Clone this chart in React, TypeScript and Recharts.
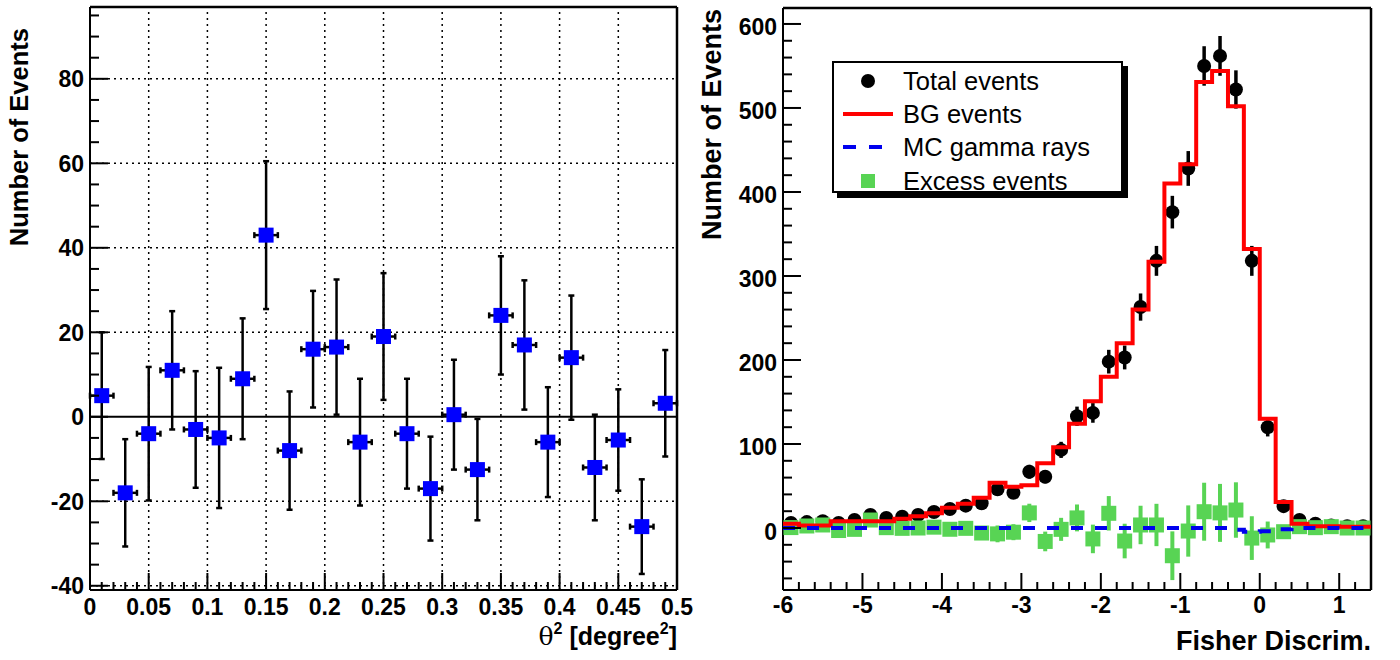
import React from 'react';
import { ComposedChart, Scatter, XAxis, YAxis, ErrorBar, ReferenceLine, Label } from 'recharts';

const FONT = '"Liberation Sans", Arial, Helvetica, sans-serif';

// ---------- Left panel: theta^2 distribution of excess events ----------
const thetaSqBins = [0.01, 0.03, 0.05, 0.07, 0.09, 0.11, 0.13, 0.15, 0.17, 0.19, 0.21, 0.23, 0.25, 0.27, 0.29, 0.31, 0.33, 0.35, 0.37, 0.39, 0.41, 0.43, 0.45, 0.47, 0.49];
const thetaSqExcess = [5, -18, -4, 11, -3, -5, 9, 43, -8, 16, 16.5, -6, 19, -4, -17, 0.5, -12.5, 24, 17, -6, 14, -12, -5.5, -26, 3.2];
const thetaSqErrors = [15, 12.7, 15.8, 14, 13.8, 16.6, 14.3, 17.5, 14, 13.8, 16, 15, 15, 13, 12.3, 13, 12, 14, 15.3, 13, 14.7, 12.5, 12, 11.2, 12.6];
const thetaSqHalfWidth = 0.01;
const thetaMajorTicks = [0, 0.05, 0.1, 0.15, 0.2, 0.25, 0.3, 0.35, 0.4, 0.45, 0.5];
const thetaTickLabels = ['0', '0.05', '0.1', '0.15', '0.2', '0.25', '0.3', '0.35', '0.4', '0.45', '0.5'];
const leftYMajorTicks = [-40, -20, 0, 20, 40, 60, 80];
const leftYTickLabels = ['-40', '-20', '0', '20', '40', '60', '80'];

// ---------- Right panel: Fisher discriminant distribution ----------
const fisherBinCenters = [-5.9, -5.7, -5.5, -5.3, -5.1, -4.9, -4.7, -4.5, -4.3, -4.1, -3.9, -3.7, -3.5, -3.3, -3.1, -2.9, -2.7, -2.5, -2.3, -2.1, -1.9, -1.7, -1.5, -1.3, -1.1, -0.9, -0.7, -0.5, -0.3, -0.1, 0.1, 0.3, 0.5, 0.7, 0.9, 1.1, 1.3];
const fisherBinWidth = 0.2;
const totalEvents = [6, 7, 8, 6, 9.5, 15.5, 12, 13.5, 15.5, 19, 22.6, 26.6, 29.4, 46, 42, 67, 61, 93, 133, 137, 198, 203, 263, 318, 376, 428, 550, 562, 522, 318, 120, 26, 9.5, 5, 3, 2, 2];
const totalErrors = [2.4, 2.6, 2.8, 2.4, 3.1, 3.9, 3.5, 3.7, 3.9, 4.4, 4.8, 5.2, 5.4, 6.8, 6.5, 8.2, 7.8, 9.6, 11.5, 11.7, 14.1, 14.2, 16.2, 17.8, 19.4, 20.7, 23.5, 23.7, 22.8, 17.8, 11, 5.1, 3.1, 2.2, 1.7, 1.4, 1.4];
const bgEvents = [5, 3, 3, 8, 8, 8, 8, 11, 14, 17.5, 24, 29, 36, 54, 49, 51, 77, 96, 124, 151, 180, 220, 260, 317, 410, 433, 531, 544, 502, 332, 130, 31, 5, 2, 2, 1.5, 1.5];
const mcGammaRays = [0, 0, 0, 0, 0, 0, 0, 0, 0, 0, 0, 0, 0, 0, 0, 0, 0, 0, 0, 0, 0, 0, 0, 0, 0, 0, 0, 0, -2, -4.5, -4, -1.5, 0, 0, 0, 0, 0];
const excessEvents = [0.5, 2.4, 3.6, -3, -1.6, 9.5, 0.4, -0.4, 0, 1, -1.5, -0.4, -6, -7, -5, 18, -16, -1.6, 12, -13, 17.5, -15.5, 3.6, 3.6, -33, -3.6, 19.4, 18, 21.4, -12, -8.3, -4.4, 1.6, 0.4, 1.6, 0, 0];
const excessErrors = [3.3, 3.2, 3.3, 3.7, 4.2, 4.8, 4.5, 4.9, 5.4, 6.0, 6.8, 7.5, 8.1, 10, 9.5, 10.9, 11.7, 13.7, 16, 17, 20.5, 20.6, 22.9, 25.2, 29, 30.5, 34.5, 34.5, 33, 26, 16, 7.5, 3.8, 2.6, 2.2, 1.9, 1.9];
const fisherMajorTicks = [-6, -5, -4, -3, -2, -1, 0, 1];
const fisherTickLabels = ['-6', '-5', '-4', '-3', '-2', '-1', '0', '1'];
const rightYMajorTicks = [0, 100, 200, 300, 400, 500, 600];
const rightYTickLabels = ['0', '100', '200', '300', '400', '500', '600'];

const legendEntries = ['Total events', 'BG events', 'MC gamma rays', 'Excess events'];

// ---------- derived tables ----------
const leftData = thetaSqBins.map((x, i) => ({ x, y: thetaSqExcess[i], err: thetaSqErrors[i], xerr: thetaSqHalfWidth }));
const totalData = fisherBinCenters.map((x, i) => ({ x, y: totalEvents[i], err: totalErrors[i] }));
const excessData = fisherBinCenters.map((x, i) => ({ x, y: excessEvents[i], err: excessErrors[i] }));
// histogram outline: left and right edge of every bin at the bin's value
const histOutline = (values: number[]) =>
  fisherBinCenters.flatMap((c, i) => [
    { x: c - fisherBinWidth / 2, y: values[i] },
    { x: c + fisherBinWidth / 2, y: values[i] },
  ]);
const bgOutline = histOutline(bgEvents);
const mcOutline = histOutline(mcGammaRays);

const range = (a: number, b: number, step: number) => {
  const n = Math.round((b - a) / step);
  return Array.from({ length: n + 1 }, (_, i) => +(a + i * step).toFixed(4));
};
const leftXTicks = range(0, 0.5, 0.01);
const leftYTicks = range(-40, 95, 5);
const rightXTicks = range(-6, 1.4, 0.2);
const rightYTicks = range(-60, 600, 20);

const findMajor = (majors: number[], v: number) => majors.findIndex((m) => Math.abs(m - v) < 1e-6);

function makeXTick(majors: number[], labels: string[], fontSize: number, baseOff: number) {
  return (props: any) => {
    const { x, y, payload } = props;
    const idx = findMajor(majors, payload.value);
    const major = idx >= 0;
    return (
      <g>
        <line x1={x} x2={x} y1={y} y2={y - (major ? 17 : 8)} stroke="#000" strokeWidth={2} />
        {major && (
          <text x={x} y={y + baseOff} textAnchor="middle" fontFamily={FONT} fontWeight="bold" fontSize={fontSize} fill="#000">
            {labels[idx]}
          </text>
        )}
      </g>
    );
  };
}

function makeYTick(majors: number[], labels: string[], fontSize: number, baseOff: number) {
  return (props: any) => {
    const { x, y, payload } = props;
    const idx = findMajor(majors, payload.value);
    const major = idx >= 0;
    return (
      <g>
        <line x1={x} x2={x + (major ? 18 : 9)} y1={y} y2={y} stroke="#000" strokeWidth={2} />
        {major && (
          <text x={x - 6} y={y + baseOff} textAnchor="end" fontFamily={FONT} fontWeight="bold" fontSize={fontSize} fill="#000">
            {labels[idx]}
          </text>
        )}
      </g>
    );
  };
}

const BlueSquare = (props: any) => {
  const { cx, cy } = props;
  if (cx == null || cy == null) return null;
  return <rect x={cx - 7.5} y={cy - 7.5} width={15} height={15} fill="#0000ff" />;
};
const GreenSquare = (props: any) => {
  const { cx, cy } = props;
  if (cx == null || cy == null) return null;
  return <rect x={cx - 7.5} y={cy - 7.5} width={15} height={15} fill="#58d454" />;
};
const BlackDot = (props: any) => {
  const { cx, cy } = props;
  if (cx == null || cy == null) return null;
  return <circle cx={cx} cy={cy} r={7} fill="#000" />;
};
const NoMarker = () => <g />;

const yTitle = (offsetX: number, topY: number, fontSize: number) => (props: any) => {
  const vb = props.viewBox || {};
  const cx = (vb.x ?? 0) + offsetX;
  return (
    <text
      x={cx}
      y={topY}
      transform={`rotate(-90 ${cx} ${topY})`}
      textAnchor="end"
      dominantBaseline="central"
      fontFamily={FONT}
      fontWeight="bold"
      fontSize={fontSize}
      fill="#000"
    >
      Number of Events
    </text>
  );
};

function LeftChart() {
  const gridDash = '2 4';
  return (
    <ComposedChart width={700} height={660} margin={{ top: 7, right: 23, bottom: 30, left: 30 }}>
      <XAxis
        dataKey="x"
        type="number"
        domain={[0, 0.5]}
        allowDataOverflow
        ticks={leftXTicks}
        interval={0}
        tickSize={0}
        tickMargin={0}
        height={40}
        axisLine={{ stroke: '#000', strokeWidth: 2 }}
        tickLine={false}
        tick={makeXTick(thetaMajorTicks, thetaTickLabels, 23, 25)}
      >
        <Label
          content={() => (
            <text x={677} y={645} textAnchor="end" fontFamily={FONT} fontWeight="bold" fontSize={25} fill="#000">
              <tspan fontWeight="normal" fontFamily="'DejaVu Serif', serif">θ</tspan>
              <tspan dy={-11} fontSize={16}>2</tspan>
              <tspan dy={11}> [degree</tspan>
              <tspan dy={-11} fontSize={16}>2</tspan>
              <tspan dy={11}>]</tspan>
            </text>
          )}
        />
      </XAxis>
      <YAxis
        type="number"
        domain={[-41, 97]}
        allowDataOverflow
        ticks={leftYTicks}
        interval={0}
        tickSize={0}
        tickMargin={0}
        width={60}
        axisLine={{ stroke: '#000', strokeWidth: 2 }}
        tickLine={false}
        tick={makeYTick(leftYMajorTicks, leftYTickLabels, 23, 8.5)}
      >
        <Label content={yTitle(-11, 28, 25.5)} />
      </YAxis>
      {thetaMajorTicks.slice(1, -1).map((v) => (
        <ReferenceLine key={'vx' + v} x={v} stroke="#000" strokeWidth={1.5} strokeDasharray={gridDash} />
      ))}
      {leftYMajorTicks.filter((v) => v !== 0).map((v) => (
        <ReferenceLine key={'hy' + v} y={v} stroke="#000" strokeWidth={1.5} strokeDasharray={gridDash} />
      ))}
      <ReferenceLine y={0} stroke="#000" strokeWidth={2} />
      <ReferenceLine y={97} stroke="#000" strokeWidth={2.5} />
      <ReferenceLine x={0.5} stroke="#000" strokeWidth={2.5} />
      <Scatter data={leftData} dataKey="y" shape={BlueSquare} isAnimationActive={false}>
        <ErrorBar dataKey="err" direction="y" width={3} stroke="#000" strokeWidth={2.5} isAnimationActive={false} />
        <ErrorBar dataKey="xerr" direction="x" width={3} stroke="#000" strokeWidth={2.5} isAnimationActive={false} />
      </Scatter>
    </ComposedChart>
  );
}

function RightChart() {
  return (
    <ComposedChart width={710} height={660} margin={{ top: 8, right: 29, bottom: 30, left: 33 }}>
      <XAxis
        dataKey="x"
        type="number"
        domain={[-6, 1.4]}
        allowDataOverflow
        ticks={rightXTicks}
        interval={0}
        tickSize={0}
        tickMargin={0}
        height={40}
        axisLine={{ stroke: '#000', strokeWidth: 2 }}
        tickLine={false}
        tick={makeXTick(fisherMajorTicks, fisherTickLabels, 23, 23)}
      >
        <Label
          content={() => (
            <text x={681} y={650} textAnchor="end" fontFamily={FONT} fontWeight="bold" fontSize={27} fill="#000">
              Fisher Discrim.
            </text>
          )}
        />
      </XAxis>
      <YAxis
        type="number"
        domain={[-73.8, 619]}
        allowDataOverflow
        ticks={rightYTicks}
        interval={0}
        tickSize={0}
        tickMargin={0}
        width={60}
        axisLine={{ stroke: '#000', strokeWidth: 2 }}
        tickLine={false}
        tick={makeYTick(rightYMajorTicks, rightYTickLabels, 23, 11.5)}
      >
        <Label content={yTitle(-11, 9, 27)} />
      </YAxis>
      <ReferenceLine y={619} stroke="#000" strokeWidth={2.5} />
      <ReferenceLine x={1.4} stroke="#000" strokeWidth={2.5} />
      <Scatter data={totalData} dataKey="y" shape={BlackDot} isAnimationActive={false}>
        <ErrorBar dataKey="err" direction="y" width={0} stroke="#000" strokeWidth={3.5} isAnimationActive={false} />
      </Scatter>
      <Scatter data={excessData} dataKey="y" shape={GreenSquare} isAnimationActive={false}>
        <ErrorBar dataKey="err" direction="y" width={0} stroke="#58d454" strokeWidth={4} isAnimationActive={false} />
      </Scatter>
      <Scatter
        data={bgOutline}
        dataKey="y"
        shape={NoMarker}
        fill="none"
        line={{ stroke: '#ff0000', strokeWidth: 4, fill: 'none', strokeLinejoin: 'miter' }}
        lineType="joint"
        isAnimationActive={false}
      />
      <Scatter
        data={mcOutline}
        dataKey="y"
        shape={NoMarker}
        fill="none"
        line={{ stroke: '#0000ee', strokeWidth: 4, fill: 'none', strokeDasharray: '12 12' }}
        lineType="joint"
        isAnimationActive={false}
      />
    </ComposedChart>
  );
}

function LegendBox() {
  const rowCenters = [18, 51, 84, 118];
  const symbols = [
    <svg width={60} height={30} key="s0"><circle cx={30} cy={15} r={7} fill="#000" /></svg>,
    <svg width={60} height={30} key="s1"><line x1={5} x2={55} y1={15} y2={15} stroke="#ff0000" strokeWidth={4} /></svg>,
    <svg width={60} height={30} key="s2"><line x1={5} x2={55} y1={15} y2={15} stroke="#0000ee" strokeWidth={4} strokeDasharray="13 13" /></svg>,
    <svg width={60} height={30} key="s3"><rect x={23} y={8} width={14} height={14} fill="#58d454" /></svg>,
  ];
  return (
    <div
      style={{
        position: 'absolute',
        left: 832,
        top: 61,
        width: 287,
        height: 128,
        border: '2px solid #000',
        background: '#fff',
        boxShadow: '5px 5px 0 #000',
      }}
    >
      {legendEntries.map((name, i) => (
        <div
          key={name}
          style={{ position: 'absolute', left: 0, top: rowCenters[i] - 17, height: 34, display: 'flex', alignItems: 'center' }}
        >
          <div style={{ width: 60, marginLeft: 4, height: 30 }}>{symbols[i]}</div>
          <span style={{ marginLeft: 5, fontFamily: FONT, fontSize: 25.5, color: '#000', whiteSpace: 'nowrap' }}>{name}</span>
        </div>
      ))}
    </div>
  );
}

export default function App() {
  return (
    <div style={{ position: 'absolute', left: 0, top: 0, width: 1400, height: 660, background: '#fff', overflow: 'hidden' }}>
      <div style={{ position: 'absolute', left: 0, top: 0 }}>
        <LeftChart />
      </div>
      <div style={{ position: 'absolute', left: 690, top: 0 }}>
        <RightChart />
      </div>
      <LegendBox />
    </div>
  );
}
